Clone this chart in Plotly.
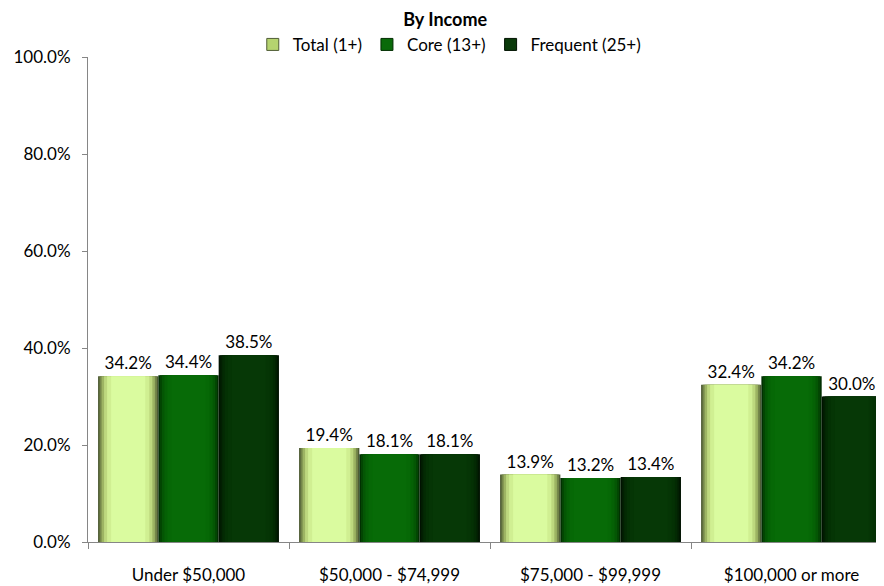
import plotly.graph_objects as go

categories = ["Under $50,000", "$50,000 - $74,999", "$75,000 - $99,999", "$100,000 or more"]
series_names = ["Total (1+)", "Core (13+)", "Frequent (25+)"]
total_vals = [0.342, 0.194, 0.139, 0.324]
core_vals = [0.344, 0.181, 0.132, 0.342]
frequent_vals = [0.385, 0.181, 0.134, 0.300]
y_ticks = [0, 0.2, 0.4, 0.6, 0.8, 1.0]

series_values = [total_vals, core_vals, frequent_vals]
# layered shades: edge -> center, to mimic the bevelled look
shades = [
    ["#4f5c35", "#75874a", "#9db463", "#bdd87e", "#d0ef92", "#dafb9f"],
    ["#022e02", "#034503", "#045604", "#056105", "#066806", "#076b07"],
    ["#011201", "#021f02", "#032a03", "#043104", "#053505", "#063806"],
]
widths = [0.3, 0.285, 0.265, 0.24, 0.21, 0.17]
legend_colors = ["#b5d36f", "#0a6a0a", "#0a3a0a"]

FONT = "Lato, 'Open Sans', sans-serif"
fig = go.Figure()
for i, (name, vals) in enumerate(zip(series_names, series_values)):
    center = (i - 1) * 0.3
    for j, w in enumerate(widths):
        first = j == 0
        fig.add_trace(go.Bar(
            x=categories, y=vals, name=name,
            width=w, offset=center - w / 2,
            marker=dict(color=shades[i][j], line=dict(width=0)),
            showlegend=False,
            text=[f"{v*100:.1f}%" for v in vals] if first else None,
            textposition="outside" if first else "none",
            textfont=dict(size=17, color="#000000", family=FONT),
            cliponaxis=False,
            hoverinfo="skip" if not first else None,
        ))
    # legend entry
    fig.add_trace(go.Scatter(
        x=[None], y=[None], mode="markers", name=name,
        marker=dict(symbol="square", size=12, color=legend_colors[i],
                    line=dict(color=shades[i][0], width=1)),
    ))

fig.update_layout(
    width=876, height=578,
    barmode="overlay",
    plot_bgcolor="white", paper_bgcolor="white",
    margin=dict(l=80, r=0, t=49, b=44, autoexpand=False),
    font=dict(family=FONT, size=17, color="#000000"),
    title=dict(text="<b>By Income</b>", x=0.499, xanchor="center", y=0.979, yanchor="middle",
               font=dict(size=18, family=FONT, color="#000000"), automargin=False),
    legend=dict(orientation="h", x=0.207, xanchor="left", y=1.025, yanchor="middle",
                font=dict(size=17, family=FONT), tracegroupgap=0,
                bgcolor="rgba(0,0,0,0)"),
    xaxis=dict(range=[-0.5, 3.46], showline=True, linecolor="#868686", linewidth=1,
               ticks="outside", ticklen=6, tickcolor="#868686", tickson="boundaries",
               showgrid=False, ticklabelstandoff=18, tickfont=dict(size=17), automargin=False),
    yaxis=dict(range=[0, 1.0], tickvals=y_ticks, tickformat=".1%", showline=True,
               linecolor="#868686", linewidth=1, ticks="outside", ticklen=5,
               tickcolor="#868686", showgrid=False, zeroline=False,
               ticklabelstandoff=8, tickfont=dict(size=17), automargin=False),
)

fig.write_html("out.html")
